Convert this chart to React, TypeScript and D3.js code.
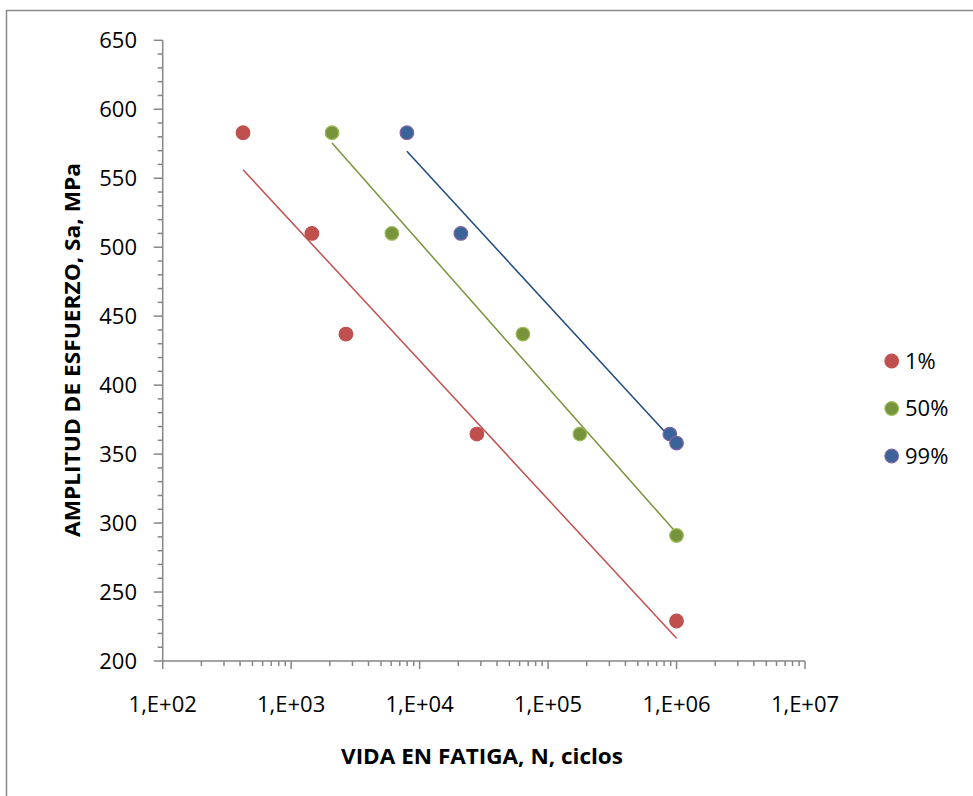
import React from "react";
import * as d3 from "d3";

const seriesNames = ["1%", "50%", "99%"];
const cycles1 = [422, 1450, 2670, 27900, 1000000];
const stress1 = [583, 510, 437, 364.5, 229];
const cycles50 = [2080, 6080, 63700, 176800, 1000000];
const stress50 = [583, 510, 437, 364.5, 291];
const cycles99 = [7960, 20940, 887000, 1000000];
const stress99 = [583, 510, 364.5, 358];
const xTickValues = [1e2, 1e3, 1e4, 1e5, 1e6, 1e7];
const xTickLabels = ["1,E+02", "1,E+03", "1,E+04", "1,E+05", "1,E+06", "1,E+07"];
const yTickValues = [200, 250, 300, 350, 400, 450, 500, 550, 600, 650];

const fills = ["#C0504D", "#77933C", "#3A6398"];
const rings = ["#C0504D", "#9BBB59", "#8064A2"];
const lineColors = ["#C0504D", "#77933C", "#1F497D"];

const W = 973, H = 796;
const left = 162.7, right = 805, top = 40.3, bottom = 661;
const FONT = "'Open Sans', 'Noto Sans', sans-serif";

function fit(xs: number[], ys: number[]) {
  const lx = xs.map((v) => Math.log10(v));
  const mx = d3.mean(lx)!, my = d3.mean(ys)!;
  let sxy = 0, sxx = 0;
  lx.forEach((v, i) => { sxy += (v - mx) * (ys[i] - my); sxx += (v - mx) * (v - mx); });
  const b = sxy / sxx;
  const a = my - b * mx;
  const x0 = d3.min(xs)!, x1 = d3.max(xs)!;
  return [[x0, a + b * Math.log10(x0)], [x1, a + b * Math.log10(x1)]] as [number, number][];
}

export default function App() {
  const x = d3.scaleLog().domain([1e2, 1e7]).range([left, right]);
  const y = d3.scaleLinear().domain([200, 650]).range([bottom, top]);
  const series = [
    { xs: cycles1, ys: stress1 },
    { xs: cycles50, ys: stress50 },
    { xs: cycles99, ys: stress99 },
  ];
  const minorX: number[] = [];
  for (let e = 2; e < 7; e++) for (let k = 2; k <= 9; k++) minorX.push(k * Math.pow(10, e));
  const minorY: number[] = d3.range(200, 651, 10).filter((v) => v % 50 !== 0);
  const line = d3.line<[number, number]>().x((d) => x(d[0])).y((d) => y(d[1]));
  const axisColor = "#868686";

  return (
    <svg width={W} height={H} style={{ position: "absolute", left: 0, top: 0, background: "#fff" }}>
      <rect x={6.5} y={10.5} width={1000} height={900} fill="#fff" stroke="#8a8a8a" strokeWidth={1.5} />
      {/* y axis */}
      <line x1={left} x2={left} y1={top} y2={bottom} stroke={axisColor} strokeWidth={1.5} />
      {yTickValues.map((v) => (
        <g key={"yt" + v}>
          <line x1={left - 9} x2={left} y1={y(v)} y2={y(v)} stroke={axisColor} strokeWidth={1.5} />
          <text x={137} y={y(v)} dy="0.36em" textAnchor="end" fontSize={22} fontFamily={FONT} fill="#000">{v}</text>
        </g>
      ))}
      {minorY.map((v) => (
        <line key={"ym" + v} x1={left - 5} x2={left} y1={y(v)} y2={y(v)} stroke={axisColor} strokeWidth={1.5} />
      ))}
      {/* x axis */}
      <line x1={left} x2={right} y1={bottom} y2={bottom} stroke={axisColor} strokeWidth={1.5} />
      {xTickValues.map((v, i) => (
        <g key={"xt" + v}>
          <line x1={x(v)} x2={x(v)} y1={bottom} y2={bottom + 8} stroke={axisColor} strokeWidth={1.5} />
          <text x={x(v)} y={712} textAnchor="middle" fontSize={22} fontFamily={FONT} fill="#000">{xTickLabels[i]}</text>
        </g>
      ))}
      {minorX.map((v) => (
        <line key={"xm" + v} x1={x(v)} x2={x(v)} y1={bottom} y2={bottom + 5} stroke={axisColor} strokeWidth={1.5} />
      ))}
      {/* trendlines */}
      {series.map((s, i) => (
        <path key={"l" + i} d={line(fit(s.xs, s.ys))!} fill="none" stroke={lineColors[i]} strokeWidth={1.5} />
      ))}
      {/* points */}
      {series.map((s, i) => (
        <g key={"p" + i}>
          {s.xs.map((xv, j) => (
            <circle key={j} cx={x(xv)} cy={y(s.ys[j])} r={6.8} fill={fills[i]} stroke={rings[i]} strokeWidth={1.2} />
          ))}
        </g>
      ))}
      {/* legend */}
      {seriesNames.map((n, i) => (
        <g key={"lg" + i}>
          <circle cx={891.7} cy={361 + i * 47.5} r={6.8} fill={fills[i]} stroke={rings[i]} strokeWidth={1.2} />
          <text x={905} y={361 + i * 47.5} dy="0.36em" fontSize={22} fontFamily={FONT} fill="#000">{n}</text>
        </g>
      ))}
      {/* titles */}
      <text x={482} y={764} textAnchor="middle" fontSize={22} fontWeight="bold" fontFamily={FONT} fill="#000"
        textLength={282} lengthAdjust="spacingAndGlyphs">VIDA EN FATIGA, N, ciclos</text>
      <text transform="translate(80,350) rotate(-90)" textAnchor="middle" fontSize={22} fontWeight="bold" fontFamily={FONT} fill="#000"
        textLength={374} lengthAdjust="spacingAndGlyphs">AMPLITUD DE ESFUERZO, Sa, MPa</text>
    </svg>
  );
}
